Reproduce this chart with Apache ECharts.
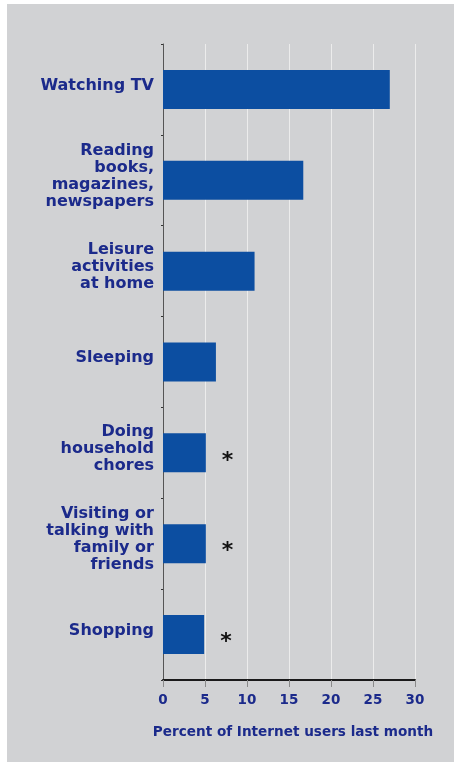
<!DOCTYPE html>
<html>
<head>
<meta charset="utf-8">
<script src="https://cdn.jsdelivr.net/npm/echarts@6/dist/echarts.min.js"></script>
<style>
  html, body { margin: 0; padding: 0; background: #ffffff; }
  #panel { position: absolute; left: 7px; top: 4px; width: 447px; height: 758px; background: #d1d2d4; }
  #chart { position: absolute; left: 0; top: 0; width: 454px; height: 763px; }
</style>
</head>
<body>
<div id="panel"></div>
<div id="chart"></div>
<script>
// Activities done while online, share of Internet users last month
const categories = [
  'Watching TV',
  'Reading\nbooks,\nmagazines,\nnewspapers',
  'Leisure\nactivities\nat home',
  'Sleeping',
  'Doing\nhousehold\nchores',
  'Visiting or\ntalking with\nfamily or\nfriends',
  'Shopping'
];
const percents = [27.0, 16.7, 10.9, 6.3, 5.1, 5.1, 4.9];
// footnote marker shown next to a bar ('' = none)
const notes = ['', '', '', '', '*', '*', '*'];
const xTicks = [0, 5, 10, 15, 20, 25, 30];

const labelBlue = '#1b2a8b';
const font = 'DejaVu Sans';

const chart = echarts.init(document.getElementById('chart'), null, { renderer: 'canvas' });

chart.setOption({
  backgroundColor: 'transparent',
  animation: false,
  grid: { left: 163, right: 39, top: 44, bottom: 83, containLabel: false },
  xAxis: {
    type: 'value',
    min: xTicks[0],
    max: xTicks[xTicks.length - 1],
    interval: 5,
    axisLine: { show: true, lineStyle: { color: '#1a1a1a', width: 2 } },
    axisTick: { show: true, length: 7, lineStyle: { color: '#8a8a8a', width: 1 } },
    splitLine: { show: true, lineStyle: { color: '#ececec', width: 1 } },
    axisLabel: {
      color: labelBlue, fontFamily: font, fontWeight: 'bold', fontSize: 13.5, margin: 13
    },
    name: 'Percent of Internet users last month',
    nameLocation: 'middle',
    nameGap: 45,
    nameTextStyle: {
      color: labelBlue, fontFamily: font, fontWeight: 'bold', fontSize: 13.6,
      padding: [0, 0, 0, 8]
    }
  },
  yAxis: {
    type: 'category',
    inverse: true,
    data: categories,
    axisLine: { show: true, lineStyle: { color: '#555555', width: 1 } },
    axisTick: { show: true, length: 2, lineStyle: { color: '#333333', width: 1 } },
    splitLine: { show: false },
    axisLabel: {
      margin: 9,
      align: 'right',
      // each line in the label style, plus a short spacer row that lifts the block a little
      formatter: (v) => v.split('\n').map((l) => '{t|' + l + '}').join('\n') + '\n{s| }',
      rich: {
        t: { color: labelBlue, fontFamily: font, fontWeight: 'bold', fontSize: 16, lineHeight: 17, align: 'right' },
        s: { fontSize: 1, lineHeight: 8 }
      }
    }
  },
  series: [{
    type: 'bar',
    barWidth: 39,
    itemStyle: { color: '#0c4ea1' },
    data: percents.map((v, i) => ({
      value: v,
      label: {
        show: notes[i] !== '',
        position: 'right',
        distance: 16,
        formatter: notes[i],
        color: '#111111',
        fontFamily: font,
        fontWeight: 'bold',
        fontSize: 22,
        offset: [0, 8]
      }
    }))
  }]
});
</script>
</body>
</html>
